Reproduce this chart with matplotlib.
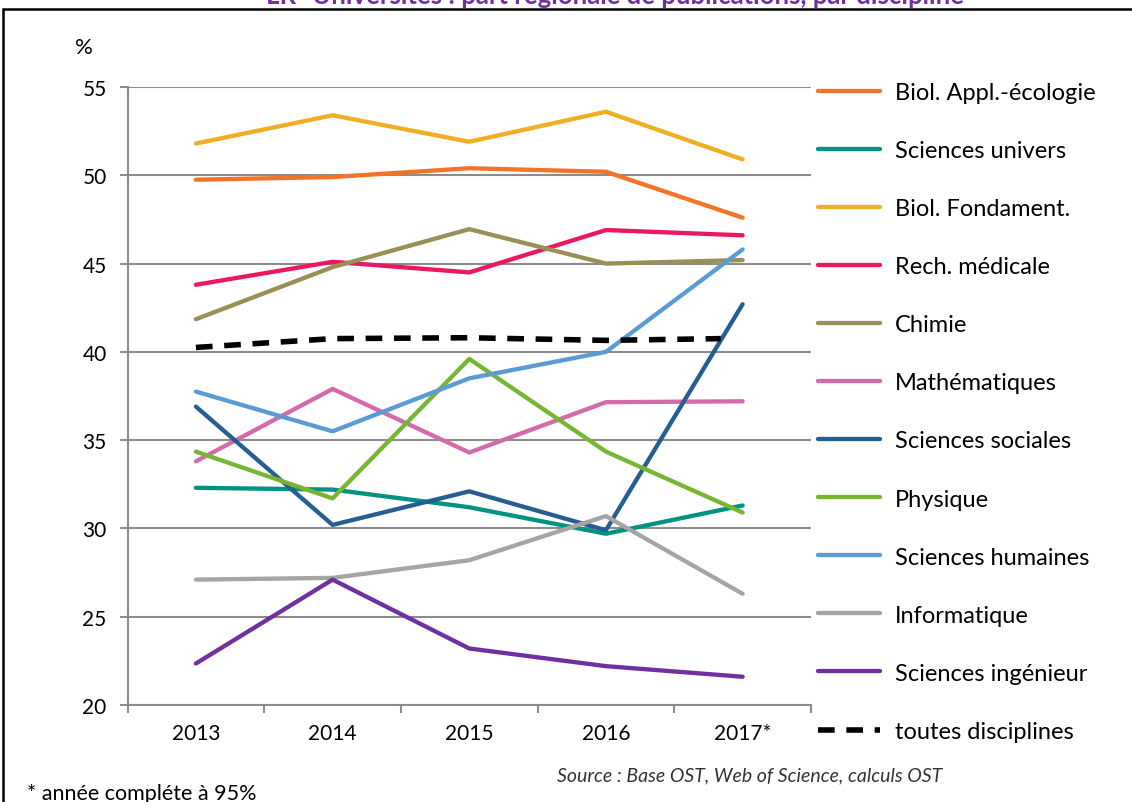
# Part régionale de publications par discipline, 2013-2017
import matplotlib
matplotlib.use('Agg')
import matplotlib.pyplot as plt
from matplotlib.patches import Rectangle

plt.rcParams['font.family'] = ['Lato', 'DejaVu Sans']

years = ['2013', '2014', '2015', '2016', '2017*']

disciplines = ['Biol. Appl.-écologie', 'Sciences univers', 'Biol. Fondament.',
               'Rech. médicale', 'Chimie', 'Mathématiques', 'Sciences sociales',
               'Physique', 'Sciences humaines', 'Informatique', 'Sciences ingénieur']

biol_appl = [49.75, 49.9, 50.4, 50.2, 47.6]
sc_univers = [32.3, 32.2, 31.2, 29.7, 31.3]
biol_fond = [51.8, 53.4, 51.9, 53.6, 50.9]
rech_med = [43.8, 45.1, 44.5, 46.9, 46.6]
chimie = [41.85, 44.8, 46.95, 45.0, 45.2]
maths = [33.8, 37.9, 34.3, 37.15, 37.2]
sc_sociales = [36.9, 30.2, 32.1, 29.9, 42.7]
physique = [34.35, 31.7, 39.6, 34.35, 30.9]
sc_humaines = [37.75, 35.5, 38.5, 40.0, 45.8]
informatique = [27.1, 27.2, 28.2, 30.7, 26.3]
sc_ingenieur = [22.35, 27.1, 23.2, 22.2, 21.6]
toutes = [40.25, 40.75, 40.8, 40.65, 40.75]

series = [biol_appl, sc_univers, biol_fond, rech_med, chimie, maths,
          sc_sociales, physique, sc_humaines, informatique, sc_ingenieur]
colors = ['#F37427', '#009382', '#F0AE22', '#EA1763', '#9A8F56', '#D46AAA',
          '#275E91', '#77B632', '#5B9BD5', '#A5A5A5', '#7030A0']

fig = plt.figure(figsize=(11.32, 8.03), dpi=100)
ax = fig.add_axes([0.1127, 0.1208, 0.6037, 0.7696])

x = list(range(len(years)))
for vals, col, name in zip(series, colors, disciplines):
    ax.plot(x, vals, color=col, lw=3.1, label=name, solid_capstyle='round')
# the dashed average stops a little before 2017 in the original
ax.plot(x[:-1] + [x[-1] - 0.16], toutes, color='black', lw=4,
        ls=(0, (3, 2.1)), label='toutes disciplines')

ax.set_xlim(-0.5, 4.5)
ax.set_ylim(20, 55)
ax.set_yticks(range(20, 56, 5))
ax.set_xticks(x)
ax.set_xticklabels(years)
ax.set_xticks([i - 0.5 for i in range(6)], minor=True)
ax.grid(axis='y', color='#8c8c8c', lw=1.5)
ax.set_axisbelow(True)
for s in ['top', 'right']:
    ax.spines[s].set_visible(False)
for s in ['left', 'bottom']:
    ax.spines[s].set_color('#8c8c8c')
    ax.spines[s].set_linewidth(1.5)
ax.tick_params(axis='x', which='major', length=0, pad=13, labelsize=15)
ax.tick_params(axis='x', which='minor', length=6, width=1.5, color='#8c8c8c')
ax.tick_params(axis='y', length=6, width=1.5, color='#8c8c8c', pad=9, labelsize=15)

ax.legend(loc='upper left', bbox_to_anchor=(1.0102, 1.008), frameon=False,
          fontsize=17, handlelength=2.63, handletextpad=0.64, labelspacing=1.57,
          borderpad=0, borderaxespad=0)

fig.text(84 / 1132, 1 - 48 / 803, '%', fontsize=16, ha='center', va='center')
fig.text(615 / 1132, 1 - 4 / 803, 'LR- Universités : part régionale de publications, par discipline',
         fontsize=18.5, fontweight='bold', color='#7030A0', ha='center', va='baseline')
fig.text(750 / 1132, 1 - 776 / 803, 'Source : Base OST, Web of Science, calculs OST',
         fontsize=14, style='italic', color='#333333', ha='center', va='center')
fig.text(27 / 1132, 1 - 794 / 803, '* année compléte à 95%', fontsize=15.5,
         ha='left', va='center')

fig.patches.append(Rectangle((3 / 1132, -0.1), 1.2, 1.1 - 10 / 803, transform=fig.transFigure,
                             fill=False, edgecolor='black', lw=1.8))

fig.savefig('out.png', dpi=100)
